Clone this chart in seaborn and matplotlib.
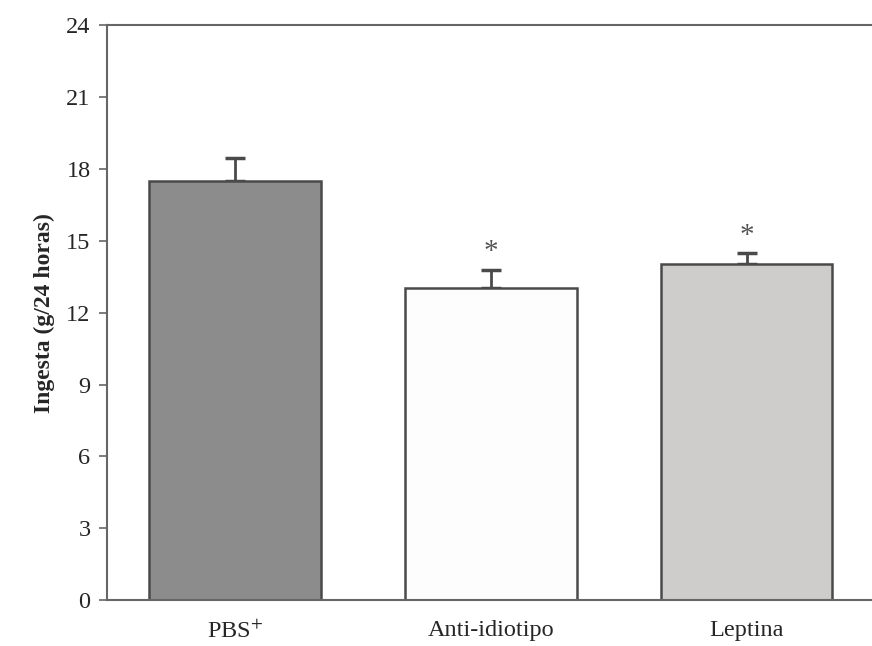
import matplotlib
matplotlib.use("Agg")
import matplotlib.pyplot as plt
import seaborn as sns
import pandas as pd

# values
grupos = ["PBS$^{+}$", "Anti-idiotipo", "Leptina"]
ingesta = [17.5, 13.05, 14.05]
error = [0.95, 0.75, 0.42]
signif = ["", "*", "*"]
colores = ["#8c8c8c", "#fdfdfd", "#cfcdcb"]

sns.set_style("white")
plt.rcParams["font.family"] = ["Liberation Serif", "DejaVu Serif"]
plt.rcParams["mathtext.fontset"] = "stix"

df = pd.DataFrame({"grupo": grupos, "ingesta": ingesta})

fig = plt.figure(figsize=(8.72, 6.46), dpi=100)
ax = fig.add_axes([0.123, 0.071, 0.88, 0.89])

sns.barplot(data=df, x="grupo", y="ingesta", hue="grupo", palette=colores,
            legend=False, width=0.67, edgecolor="#4a4a4a", linewidth=1.8,
            errorbar=None, ax=ax, zorder=2)

# error bars go up only; the lower end sits behind the bar
pos = list(range(len(grupos)))
ax.errorbar(pos, ingesta, yerr=[[0] * len(error), error], fmt="none",
            ecolor="#4a4a4a", elinewidth=2, capsize=7, capthick=2.5, zorder=1)

for x, y, e, s in zip(pos, ingesta, error, signif):
    if s:
        ax.text(x, y + e + 0.45, s, ha="center", va="baseline",
                fontsize=21, color="#555555")

ax.set_ylim(0, 24)
ax.set_xlim(-0.5, 2.5)
ax.set_yticks(range(0, 25, 3))
ax.set_xlabel("")
ax.set_ylabel("Ingesta (g/24 horas)", fontsize=17, fontweight="bold", labelpad=8)
ax.tick_params(axis="y", left=True, length=6, width=1.2, color="#666666",
               labelsize=17.5, pad=6)
ax.tick_params(axis="x", bottom=False, labelsize=17.5, pad=11)

for s in ["left", "bottom", "top"]:
    ax.spines[s].set_color("#666666")
    ax.spines[s].set_linewidth(1.5)
ax.spines["right"].set_visible(False)

fig.savefig("out.png", dpi=100)
